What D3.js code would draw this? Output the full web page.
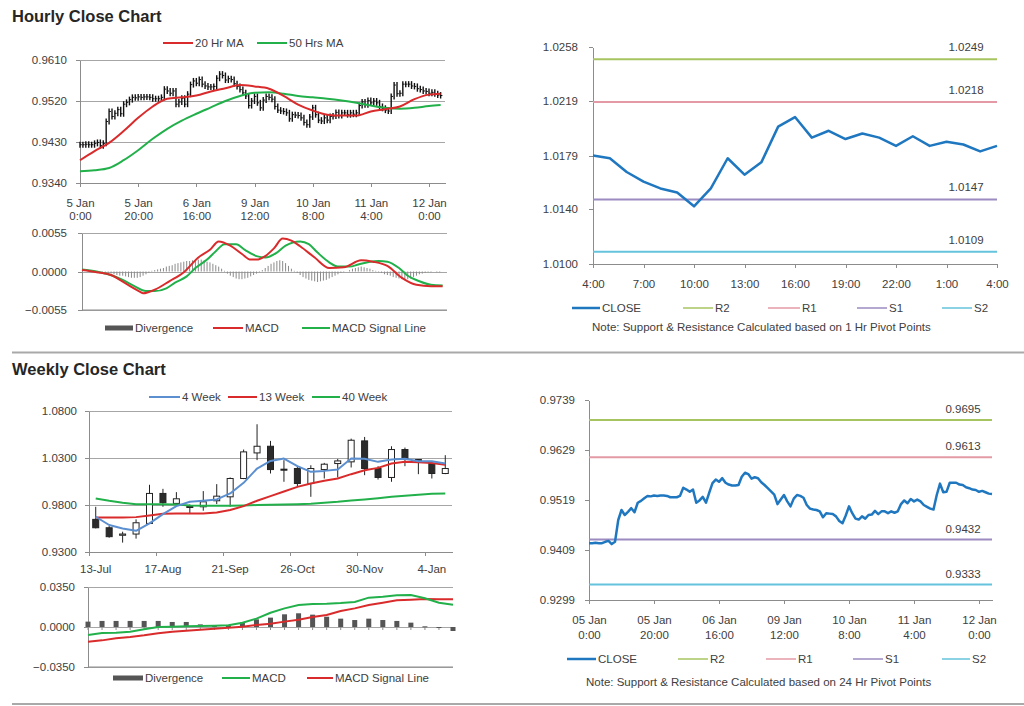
<!DOCTYPE html>
<html><head><meta charset="utf-8">
<script src="https://cdn.jsdelivr.net/npm/d3@7"></script>
<style>
body{margin:0;background:#fff;}
svg{display:block;font-family:"Liberation Sans",Arial,sans-serif;}
</style></head><body>
<svg id="c" width="1024" height="706"></svg>
<script>
// ===== DATA =====
// Hourly closes 5 Jan 0:00 .. 12 Jan ~4:00 (trading hours)
const hourlyClose = [
0.9424,0.9424,0.9425,0.9424,0.9424,0.9427,0.9429,0.9422,0.9427,0.9475,
0.9497,0.9486,0.9493,0.9501,0.9492,0.9513,0.9517,0.9523,0.9528,0.9527,
0.9529,0.9528,0.9529,0.9529,0.9528,0.9525,0.9525,0.9525,0.9528,0.9546,
0.9542,0.9537,0.9542,0.9513,0.9518,0.9526,0.9513,0.9535,0.9556,0.9564,
0.9559,0.9567,0.9557,0.9553,0.9551,0.9551,0.9552,0.9570,0.9579,0.9576,
0.9566,0.9569,0.9567,0.9558,0.9552,0.9545,0.9538,0.9531,0.9510,0.9520,
0.9530,0.9516,0.9505,0.9522,0.9530,0.9528,0.9524,0.9508,0.9500,0.9498,
0.9497,0.9494,0.9481,0.9490,0.9489,0.9488,0.9483,0.9473,0.9468,0.9485,
0.9505,0.9490,0.9478,0.9476,0.9483,0.9478,0.9486,0.9487,0.9495,0.9488,
0.9494,0.9494,0.9490,0.9494,0.9491,0.9494,0.9510,0.9518,0.9512,0.9521,
0.9516,0.9520,0.9516,0.9508,0.9504,0.9500,0.9498,0.9530,0.9555,0.9536,
0.9537,0.9557,0.9557,0.9557,0.9553,0.9552,0.9547,0.9545,0.9542,0.9541,
0.9537,0.9539,0.9536,0.9533,0.9532];
const hourTickIdx = [0,20,40,60,80,100,120];
const hourTickDay = ["5 Jan","5 Jan","6 Jan","9 Jan","10 Jan","11 Jan","12 Jan"];
const hourTickDay2 = ["05 Jan","05 Jan","06 Jan","09 Jan","10 Jan","11 Jan","12 Jan"];
const hourTickTime = ["0:00","20:00","16:00","12:00","8:00","4:00","0:00"];
const hourYTicks = [0.9340,0.9430,0.9520,0.9610];

const maIdx = [0,5,10,15,20,25,30,35,40,45,50,55,60,65,70,75,80,85,90,95,100,105,110,115,120,124];
const ma20 = [0.9390,0.9410,0.9428,0.9454,0.9483,0.9508,0.9525,0.9528,0.9532,0.9541,0.9548,0.9555,0.9552,0.9547,0.9531,0.9512,0.9499,0.9490,0.9488,0.9488,0.9497,0.9502,0.9508,0.9524,0.9534,0.9536];
const ma50 = [0.9366,0.9368,0.9373,0.9390,0.9412,0.9437,0.9459,0.9477,0.9492,0.9506,0.9520,0.9531,0.9538,0.9539,0.9536,0.9531,0.9528,0.9525,0.9521,0.9516,0.9510,0.9505,0.9503,0.9505,0.9509,0.9511];

const macdIdx = [0,5,10,15,20,21,25,30,35,40,44,47,51,55,58,60,63,66,69,72,75,80,85,90,96,100,105,110,115,120,124];
const macdVal = [0.0002,-0.0001,-0.0005,-0.0017,-0.0029,-0.0031,-0.0026,-0.0014,-0.0001,0.0020,0.0031,0.0043,0.0037,0.0025,0.0017,0.0017,0.0022,0.0033,0.0047,0.0044,0.0036,0.0020,0.0005,0.0006,0.0016,0.0014,0.0008,-0.0009,-0.0019,-0.0021,-0.0021];
const sigIdx = [0,5,9,14,18,22,25,29,32,36,39,43,46,49,53,56,60,63,67,70,75,78,81,85,88,92,95,99,102,105,109,112,116,120,124];
const sigVal = [0.0003,0.0000,-0.0004,-0.0012,-0.0021,-0.0028,-0.0028,-0.0024,-0.0016,-0.0007,0.0005,0.0017,0.0029,0.0039,0.0039,0.0031,0.0022,0.0020,0.0027,0.0037,0.0043,0.0039,0.0027,0.0013,0.0007,0.0007,0.0010,0.0014,0.0015,0.0014,0.0005,-0.0006,-0.0014,-0.0019,-0.0020];
const hourDiv = [
0.0000,0.0000,0.0000,-0.0001,-0.0001,-0.0001,0.0000,-0.0001,-0.0001,
-0.0002,-0.0003,-0.0004,-0.0005,-0.0006,-0.0006,-0.0007,-0.0008,-0.0009,-0.0009,-0.0009,-0.0008,-0.0006,-0.0004,-0.0002,
0.0001,0.0002,0.0003,0.0004,0.0005,0.0007,0.0008,0.0009,0.0011,0.0012,0.0013,0.0014,0.0015,0.0015,0.0016,0.0017,0.0017,0.0017,0.0016,0.0014,0.0013,0.0011,0.0009,0.0007,0.0004,0.0001,
-0.0003,-0.0006,-0.0008,-0.0010,-0.0011,-0.0011,-0.0010,-0.0009,-0.0007,-0.0005,-0.0003,-0.0001,
0.0002,0.0005,0.0008,0.0011,0.0013,0.0015,0.0016,0.0015,0.0012,0.0008,0.0004,0.0001,
-0.0002,-0.0005,-0.0008,-0.0010,-0.0012,-0.0013,-0.0014,-0.0015,-0.0014,-0.0013,-0.0012,-0.0010,-0.0008,-0.0006,-0.0004,-0.0002,-0.0001,0.0000,
0.0002,0.0004,0.0005,0.0006,0.0007,0.0006,0.0005,0.0004,0.0002,0.0001,
-0.0001,-0.0002,-0.0004,-0.0005,-0.0006,-0.0008,-0.0009,-0.0010,-0.0011,-0.0011,-0.0011,-0.0010,-0.0008,-0.0006,-0.0004,-0.0003,-0.0002,
-0.0001,-0.0001,0.0000,-0.0001,-0.0001,0.0000];
const macdYTicks = [-0.0055,0.0000,0.0055];

// 1 Hr pivot chart (last 24 hours)
const hr24Labels = ["4:00","5:00","6:00","7:00","8:00","9:00","10:00","11:00","12:00","13:00","14:00","15:00","16:00","17:00","18:00","19:00","20:00","21:00","22:00","23:00","0:00","1:00","2:00","3:00","4:00"];
const hr24Close = [1.0179,1.0177,1.0167,1.0160,1.0155,1.0152,1.0142,1.0155,1.0177,1.0165,1.0174,1.0200,1.0207,1.0192,1.0197,1.0191,1.0195,1.0192,1.0186,1.0193,1.0186,1.0189,1.0187,1.0182,1.0186];
const hr24YTicks = [1.0100,1.0140,1.0179,1.0219,1.0258];
const hr24YLabels = ["1.0100","1.0140","1.0179","1.0219","1.0258"];
const pivotNames = ["R2","R1","S1","S2"];
const pivot1h = [1.0249,1.0218,1.0147,1.0109];
const pivot24h = [0.9695,0.9613,0.9432,0.9333];
const dayYTicks = [0.9299,0.9409,0.9519,0.9629,0.9739];

// Weekly
const weeks = ["13-Jul","20-Jul","27-Jul","3-Aug","10-Aug","17-Aug","24-Aug","31-Aug","7-Sep","14-Sep","21-Sep","28-Sep","5-Oct","12-Oct","19-Oct","26-Oct","2-Nov","9-Nov","16-Nov","23-Nov","30-Nov","7-Dec","14-Dec","21-Dec","28-Dec","4-Jan","11-Jan"];
const weekLabelIdx = [0,5,10,15,20,25];
const wOpen  = [0.9647,0.9558,0.9478,0.9491,0.9604,0.9923,0.9817,0.9784,0.9781,0.9845,0.9887,1.0082,1.0354,1.0425,1.0181,1.0188,1.0029,1.0177,1.0241,1.0259,1.0482,1.0188,1.0093,1.0390,1.0284,1.0241,1.0135];
const wClose = [0.9558,0.9463,0.9491,0.9611,0.9923,0.9824,0.9866,0.9778,0.9834,0.9894,1.0082,1.0365,1.0425,1.0177,1.0174,1.0029,1.0188,1.0234,1.0269,1.0489,1.0188,1.0093,1.0390,1.0284,1.0259,1.0135,1.0188];
const wHigh  = [0.9781,0.9576,0.9516,0.9647,1.0015,0.9972,0.9937,0.9806,0.9948,1.0022,1.0093,1.0390,1.0659,1.0482,1.0277,1.0213,1.0223,1.0248,1.0290,1.0506,1.0524,1.0213,1.0425,1.0411,1.0284,1.0259,1.0330];
const wLow   = [0.9551,0.9452,0.9400,0.9442,0.9597,0.9781,0.9781,0.9710,0.9739,0.9810,0.9781,1.0075,1.0277,1.0135,1.0047,1.0001,0.9887,1.0082,1.0093,1.0199,1.0117,1.0071,1.0047,1.0213,1.0128,1.0082,1.0128];
const wMa4  = [0.9675,0.9587,0.9551,0.9526,0.9604,0.9703,0.9788,0.9834,0.9845,0.9859,0.9923,1.0036,1.0188,1.0269,1.0294,1.0213,1.0153,1.0163,1.0177,1.0294,1.0291,1.0259,1.0284,1.0291,1.0266,1.0266,1.0241];
const wMa13 = [0.9668,0.9668,0.9668,0.9671,0.9689,0.9707,0.9710,0.9710,0.9710,0.9721,0.9746,0.9788,0.9845,0.9894,0.9944,0.9993,1.0029,1.0057,1.0082,1.0128,1.0170,1.0195,1.0241,1.0259,1.0255,1.0248,1.0227];
const wMa40 = [0.9870,0.9845,0.9824,0.9809,0.9809,0.9809,0.9806,0.9795,0.9792,0.9792,0.9792,0.9795,0.9799,0.9802,0.9806,0.9809,0.9813,0.9824,0.9834,0.9848,0.9859,0.9873,0.9887,0.9898,0.9909,0.9919,0.9923];
const weekYTicks = [0.9300,0.9800,1.0300,1.0800];
const wDiv    = [0.0047,0.0053,0.0053,0.0053,0.0053,0.0053,0.0044,0.0044,0.0023,0.0015,0.0018,0.0038,0.0067,0.0082,0.0111,0.0120,0.0108,0.0090,0.0073,0.0061,0.0073,0.0061,0.0053,0.0038,0.0006,-0.0009,-0.0035];
const wMacd   = [-0.0070,-0.0053,-0.0050,-0.0041,-0.0020,0.0000,0.0003,0.0006,0.0009,0.0012,0.0015,0.0038,0.0073,0.0125,0.0163,0.0193,0.0201,0.0204,0.0210,0.0219,0.0257,0.0265,0.0277,0.0280,0.0251,0.0213,0.0195];
const wSignal = [-0.0128,-0.0117,-0.0099,-0.0088,-0.0073,-0.0055,-0.0041,-0.0032,-0.0023,-0.0015,-0.0006,0.0003,0.0018,0.0029,0.0047,0.0064,0.0088,0.0105,0.0140,0.0163,0.0193,0.0213,0.0233,0.0239,0.0245,0.0242,0.0242];
const wMacdYTicks = [-0.0350,0.0000,0.0350];

// ===== STYLE =====
const FF = "'Liberation Sans', Arial, sans-serif";
const FS = "11.5px";
const TXT = "#404040";
const GRID = "#a6a6a6";
const AX = "#8c8c8c";
const RED = "#d92b2b";
const GREEN = "#22b04b";
const BLUE = "#1f77c0";
const LBLUE = "#5b8fd0";
const pivotColors = ["#a6c460","#e49aa4","#9c8bc1","#65c3dd"];

const svg = d3.select("#c");
const f4 = d3.format(".4f");

function styleAxis(s){
  s.select(".domain").attr("stroke",AX).attr("shape-rendering","crispEdges");
  s.selectAll(".tick line").attr("stroke",AX).attr("shape-rendering","crispEdges");
  s.selectAll("text").attr("fill",TXT).style("font-size",FS).style("font-family",FF);
}
function gridY(g, y, ticks, x0, w){
  g.append("g").attr("transform",`translate(${x0},0)`)
    .call(d3.axisLeft(y).tickValues(ticks).tickSize(-w).tickFormat(""))
    .call(s=>{s.select(".domain").remove(); s.selectAll("line").attr("stroke",GRID).attr("shape-rendering","crispEdges");});
}
function twoLine(ax, a, b, lh){
  ax.selectAll(".tick text").each(function(d,i){
    const t = d3.select(this); t.text(null);
    t.append("tspan").attr("x",0).attr("dy","0.71em").text(a[i]);
    t.append("tspan").attr("x",0).attr("dy",lh+"px").text(b[i]);
  });
}
function txt(g,x,y,s,anchor,size,weight,color){
  return g.append("text").attr("x",x).attr("y",y).text(s)
    .attr("text-anchor",anchor||"start").attr("fill",color||TXT)
    .style("font-size",size||FS).style("font-weight",weight||"normal").style("font-family",FF);
}
function legLine(g,x1,x2,y,color,label,w){
  g.append("line").attr("x1",x1).attr("x2",x2).attr("y1",y).attr("y2",y).attr("stroke",color).attr("stroke-width",w||2);
  txt(g,x2+2,y+4,label);
}
function legBar(g,x1,x2,y,color,label){
  g.append("rect").attr("x",x1).attr("y",y-2.5).attr("width",x2-x1).attr("height",5).attr("fill",color);
  txt(g,x2+2,y+4,label);
}

// ===== TITLES & SEPARATORS =====
txt(svg,12,22,"Hourly Close Chart","start","16.5px","bold","#262626");
txt(svg,12,375,"Weekly Close Chart","start","16.5px","bold","#262626");
svg.append("line").attr("x1",12).attr("x2",1024).attr("y1",352.5).attr("y2",352.5).attr("stroke","#a9a9a9").attr("stroke-width",2);
svg.append("line").attr("x1",12).attr("x2",1024).attr("y1",704).attr("y2",704).attr("stroke","#a9a9a9").attr("stroke-width",2);

// ===== HOURLY CLOSE (top-left) =====
{
  const g = svg.append("g");
  const x = d3.scaleLinear().domain([0,125.5]).range([80,445]);
  const y = d3.scaleLinear().domain([0.9340,0.9610]).range([183,60]);
  gridY(g,y,hourYTicks,80,365);
  g.append("g").attr("transform","translate(80,0)")
    .call(d3.axisLeft(y).tickValues(hourYTicks).tickSize(4).tickSizeOuter(0).tickPadding(9).tickFormat(f4))
    .call(styleAxis);
  const xa = g.append("g").attr("transform","translate(0,183)")
    .call(d3.axisBottom(x).tickValues(hourTickIdx).tickSize(4).tickSizeOuter(0).tickPadding(12))
    .call(styleAxis);
  twoLine(xa,hourTickDay,hourTickTime,13);
  // hour bars (open = previous close)
  g.append("g").selectAll("line").data(hourlyClose).join("line")
    .attr("x1",(d,i)=>x(i)).attr("x2",(d,i)=>x(i))
    .attr("y1",(d,i)=>y(Math.max(d,i?hourlyClose[i-1]:d))-3)
    .attr("y2",(d,i)=>y(Math.min(d,i?hourlyClose[i-1]:d))+3)
    .attr("stroke","#111").attr("stroke-width",1.4);
  g.append("g").selectAll("line").data(hourlyClose).join("line")
    .attr("x1",(d,i)=>x(i)).attr("x2",(d,i)=>x(i)+1.8)
    .attr("y1",d=>y(d)).attr("y2",d=>y(d))
    .attr("stroke","#111").attr("stroke-width",1);
  const ln = d3.line().x(d=>x(d[0])).y(d=>y(d[1])).curve(d3.curveMonotoneX);
  g.append("path").datum(d3.zip(maIdx,ma50)).attr("d",ln).attr("fill","none").attr("stroke",GREEN).attr("stroke-width",2);
  g.append("path").datum(d3.zip(maIdx,ma20)).attr("d",ln).attr("fill","none").attr("stroke",RED).attr("stroke-width",2);
  legLine(g,163,193,43,RED,"20 Hr MA");
  legLine(g,257,287,43,GREEN,"50 Hrs MA");
}

// ===== HOURLY MACD =====
{
  const g = svg.append("g");
  const x = d3.scaleLinear().domain([0,125.5]).range([82,447]);
  const y = d3.scaleLinear().domain([-0.0055,0.0055]).range([310,233]);
  gridY(g,y,macdYTicks,82,365);
  g.append("g").attr("transform","translate(82,0)")
    .call(d3.axisLeft(y).tickValues(macdYTicks).tickSize(4).tickSizeOuter(0).tickPadding(11).tickFormat(f4))
    .call(styleAxis);
  g.append("line").attr("x1",82).attr("x2",447).attr("y1",310).attr("y2",310).attr("stroke",AX);
  g.append("g").selectAll("line").data(hourDiv).join("line")
    .attr("x1",(d,i)=>x(i)).attr("x2",(d,i)=>x(i))
    .attr("y1",y(0)).attr("y2",d=>y(d))
    .attr("stroke","#8a8a8a").attr("stroke-width",1);
  const ln = d3.line().x(d=>x(d[0])).y(d=>y(d[1])).curve(d3.curveMonotoneX);
  g.append("path").datum(d3.zip(sigIdx,sigVal)).attr("d",ln).attr("fill","none").attr("stroke",GREEN).attr("stroke-width",2);
  g.append("path").datum(d3.zip(macdIdx,macdVal)).attr("d",ln).attr("fill","none").attr("stroke",RED).attr("stroke-width",2);
  legBar(g,105,133,328,"#555","Divergence");
  legLine(g,213,243,328,RED,"MACD");
  legLine(g,302,330,328,GREEN,"MACD Signal Line");
}

// ===== PIVOT PANELS =====
function pivotPanel(o){
  const g = svg.append("g");
  const x = d3.scaleLinear().domain([0,o.close.length-1]).range([o.x0,o.x1]);
  const y = d3.scaleLinear().domain(o.yDomain).range([o.y1,o.y0]);
  g.append("g").attr("transform",`translate(${o.x0},0)`)
    .call(d3.axisLeft(y).tickValues(o.yTicks).tickSize(4).tickSizeOuter(0).tickPadding(o.ypad).tickFormat((d,i)=>o.yLabels[i]))
    .call(styleAxis);
  const xa = g.append("g").attr("transform",`translate(0,${o.y1})`)
    .call(d3.axisBottom(x).tickValues(o.xTicks).tickSize(4).tickSizeOuter(0).tickPadding(o.xpad).tickFormat((d,i)=>o.xLabels[i]))
    .call(styleAxis);
  if (o.xLabels2) twoLine(xa,o.xLabels,o.xLabels2,15);
  pivotNames.forEach((n,k)=>{
    const v = o.pivots[k];
    g.append("line").attr("x1",o.x0).attr("x2",o.x1).attr("y1",y(v)).attr("y2",y(v))
      .attr("stroke",pivotColors[k]).attr("stroke-width",2);
    txt(g,o.labelX,y(v)-o.labelOff,f4(v),"middle");
  });
  g.append("path").datum(o.close)
    .attr("d",d3.line().x((d,i)=>x(i)).y(d=>y(d)))
    .attr("fill","none").attr("stroke",BLUE).attr("stroke-width",2.5).attr("stroke-linejoin","round");
  const L = o.legend;
  legLine(g,L[0][0],L[0][1],o.legY,BLUE,"CLOSE",2.5);
  pivotNames.forEach((n,k)=>legLine(g,L[k+1][0],L[k+1][1],o.legY,pivotColors[k],n,1.5));
  txt(g,o.noteX,o.noteY,o.note);
}

pivotPanel({
  close: hr24Close, x0:593, x1:997, y0:47, y1:264,
  yDomain:[1.0100,1.0258], yTicks:hr24YTicks, yLabels:hr24YLabels, ypad:11,
  xTicks:d3.range(0,25,3), xLabels:d3.range(0,25,3).map(i=>hr24Labels[i]), xpad:12,
  pivots:pivot1h, labelX:966, labelOff:8,
  legY:308, legend:[[572,600],[683,713],[768,800],[857,887],[942,972]],
  noteX:592, noteY:331, note:"Note: Support & Resistance Calculated based on 1 Hr Pivot Points"
});

{
  // 24 Hr pivot panel uses hourly closes with 2-line date labels
  pivotPanel({
    close: hourlyClose, x0:589, x1:992, y0:400, y1:600,
    yDomain:[0.9299,0.9739], yTicks:dayYTicks, yLabels:dayYTicks.map(f4), ypad:10,
    xTicks:hourTickIdx, xLabels:hourTickDay2, xLabels2:hourTickTime, xpad:12,
    pivots:pivot24h, labelX:963, labelOff:7,
    legY:659, legend:[[567,596],[678,708],[766,796],[853,883],[942,970]],
    noteX:586, noteY:686, note:"Note: Support & Resistance Calculated based on 24 Hr Pivot Points"
  });
}

// ===== WEEKLY CANDLES =====
{
  const g = svg.append("g");
  const x = d3.scaleBand().domain(weeks).range([89,452]);
  const bw = x.bandwidth();
  const y = d3.scaleLinear().domain([0.93,1.08]).range([552,411]);
  gridY(g,y,weekYTicks,89,363);
  g.append("g").attr("transform","translate(89,0)")
    .call(d3.axisLeft(y).tickValues(weekYTicks).tickSize(4).tickSizeOuter(0).tickPadding(8).tickFormat(f4))
    .call(styleAxis);
  const xa = g.append("g").attr("transform","translate(0,552)")
    .call(d3.axisBottom(x).tickValues(weekLabelIdx.map(i=>weeks[i])).tickSize(0).tickSizeOuter(0).tickPadding(13))
    .call(styleAxis);
  g.append("g").selectAll("line").data(weekLabelIdx).join("line")
    .attr("x1",i=>x(weeks[i])).attr("x2",i=>x(weeks[i])).attr("y1",552).attr("y2",556)
    .attr("stroke",AX).attr("shape-rendering","crispEdges");
  const cx = i=>x(weeks[i])+bw/2;
  const ln = arr=>d3.line().x((d,i)=>cx(i)).y(d=>y(d))(arr);
  // candles
  const c = g.append("g").selectAll("g").data(weeks).join("g");
  c.append("line").attr("x1",(d,i)=>cx(i)).attr("x2",(d,i)=>cx(i))
    .attr("y1",(d,i)=>y(wHigh[i])).attr("y2",(d,i)=>y(wLow[i])).attr("stroke","#222").attr("stroke-width",1);
  c.append("rect").attr("x",(d,i)=>cx(i)-3).attr("width",6)
    .attr("y",(d,i)=>y(Math.max(wOpen[i],wClose[i])))
    .attr("height",(d,i)=>Math.max(1,Math.abs(y(wOpen[i])-y(wClose[i]))))
    .attr("fill",(d,i)=>wClose[i]<wOpen[i]?"#2b2b2b":"#fff").attr("stroke","#222").attr("stroke-width",1);
  g.append("path").attr("d",ln(wMa40)).attr("fill","none").attr("stroke",GREEN).attr("stroke-width",2);
  g.append("path").attr("d",ln(wMa13)).attr("fill","none").attr("stroke",RED).attr("stroke-width",2);
  g.append("path").attr("d",ln(wMa4)).attr("fill","none").attr("stroke",LBLUE).attr("stroke-width",2).attr("stroke-linejoin","round");
  legLine(g,149,180,397,LBLUE,"4 Week");
  legLine(g,228,257,397,RED,"13 Week");
  legLine(g,312,340,397,GREEN,"40 Week");
}

// ===== WEEKLY MACD =====
{
  const g = svg.append("g");
  const x = d3.scalePoint().domain(weeks).range([88,453]);
  const y = d3.scaleLinear().domain([-0.035,0.035]).range([667,587]);
  gridY(g,y,wMacdYTicks,88,365);
  g.append("g").attr("transform","translate(88,0)")
    .call(d3.axisLeft(y).tickValues(wMacdYTicks).tickSize(4).tickSizeOuter(0).tickPadding(9).tickFormat(f4))
    .call(styleAxis);
  g.append("line").attr("x1",88).attr("x2",453).attr("y1",667).attr("y2",667).attr("stroke",AX);
  g.append("g").selectAll("line").data(weeks).join("line")
    .attr("x1",d=>x(d)).attr("x2",d=>x(d)).attr("y1",627).attr("y2",630).attr("stroke",AX);
  g.append("g").selectAll("rect").data(weeks).join("rect")
    .attr("x",d=>x(d)-2.5).attr("width",5)
    .attr("y",(d,i)=>Math.min(y(0),y(wDiv[i])))
    .attr("height",(d,i)=>Math.max(1,Math.abs(y(wDiv[i])-y(0))))
    .attr("fill","#555");
  const ln = arr=>d3.line().x((d,i)=>x(weeks[i])).y(d=>y(d))(arr);
  g.append("path").attr("d",ln(wSignal)).attr("fill","none").attr("stroke",RED).attr("stroke-width",2);
  g.append("path").attr("d",ln(wMacd)).attr("fill","none").attr("stroke",GREEN).attr("stroke-width",2);
  legBar(g,113,143,678,"#555","Divergence");
  legLine(g,222,250,678,GREEN,"MACD");
  legLine(g,307,333,678,RED,"MACD Signal Line");
}
</script>
</body></html>
